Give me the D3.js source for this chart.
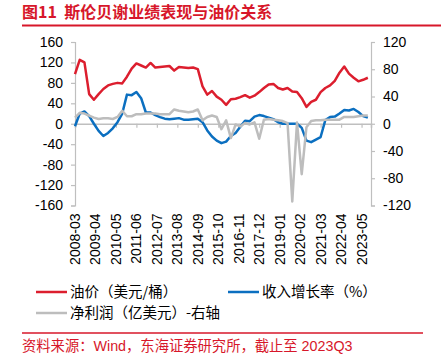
<!DOCTYPE html>
<html><head><meta charset="utf-8">
<script src="https://cdn.jsdelivr.net/npm/d3@7"></script>
<style>
html,body{margin:0;padding:0;background:#fff;}
svg{display:block;font-family:"Liberation Sans",Arial,"Noto Sans CJK SC",sans-serif;}
</style></head>
<body><svg id="c" width="444" height="356"></svg>
<script>
// ---- data ----
const tickLabels = ["2008-03","2009-04","2010-05","2011-06","2012-07","2013-08","2014-09","2015-10","2016-11","2017-12","2019-01","2020-02","2021-03","2022-04","2023-05"];
const leftTicks = [160,120,80,40,0,-40,-80,-120,-160];
const rightTicks = [120,80,40,0,-40,-80,-120];
// quarterly observations 2008-03 ... 2023-09
const oilPrice = [97,125,120,58,47,58,68,75,78,80,79,92,108,118,114,110,119,110,111,112,113,104,111,110,109,110,107,73,57,64,53,47,37,48,49,52,56,51,55,62,70,77,78,70,67,70,63,62,50,33,43,47,62,70,75,84,100,112,98,90,83,86,90];
const revenueGrowth = [-5,20,24,15,0,-14,-24,-18,-9,3,20,57,56,62,50,22,22,17,13,10,9,10,11,8,8,9,10,3,-13,-25,-33,-38,-35,-24,-18,-6,6,5,14,17,15,12,9,3,0,0,0,0,-8,-33,-36,-31,-26,7,13,14,20,27,26,29,23,15,12];
const netIncome = [9,16,15,12,9,7,8,8,7,10,19,11,11,14,14,15,15,15,14,14,14,21,19,18,17,18,21,5,10,12,10,-8,5,-21,-1,-4,1,-1,2,-22,6,7,6,5,4,1,-114,2,-74,-5,4,5,5,6,6,6,6,10,10,10,11,12,12];
const seriesNames = ["油价（美元/桶）","收入增长率（%）","净利润（亿美元）-右轴"];
const colors = ["#dc1e2e","#0b6fc0","#bdbdbd"];

// month categories 2008-03 .. 2023-11
const months = [];
for (let y = 2008, m = 3; !(y === 2023 && m === 12); ) {
  months.push(y + "-" + String(m).padStart(2, "0"));
  m++; if (m > 12) { m = 1; y++; }
}
const quarters = months.filter((d, i) => i % 3 === 0).slice(0, oilPrice.length);

// ---- layout ----
const svg = d3.select("#c");
const red = "#d7172a";
const axisCol = "#bfbfbf";
const x0 = 75, x1 = 371, yTop = 42, yBot = 205.5;
const x = d3.scalePoint().domain(months).range([x0, x1]);
const yL = d3.scaleLinear().domain([-160, 160]).range([yBot, yTop]);
const yR = d3.scaleLinear().domain([-120, 120]).range([yBot, yTop]);

// title
svg.append("text").attr("x", 22).attr("y", 18).attr("fill", red)
  .attr("font-size", 16).attr("font-weight", "bold")
  .attr("font-family", "'Noto Sans CJK SC','Liberation Sans',sans-serif")
  .style("white-space", "pre")
  .text("图11  斯伦贝谢业绩表现与油价关系");
svg.append("line").attr("x1", 22).attr("x2", 441).attr("y1", 25.5).attr("y2", 25.5)
  .attr("stroke", red).attr("stroke-width", 2);

// left axis
const fmt = d => String(d);
const gL = svg.append("g").attr("transform", `translate(${x0},0)`)
  .call(d3.axisLeft(yL).tickValues(leftTicks).tickSize(4).tickPadding(8).tickFormat(fmt));
// right axis
const gR = svg.append("g").attr("transform", `translate(${x1},0)`)
  .call(d3.axisRight(yR).tickValues(rightTicks).tickSize(4).tickPadding(8).tickFormat(fmt));
[gL, gR].forEach(g => {
  g.select(".domain").attr("stroke", axisCol).attr("stroke-width", 1.2);
  g.selectAll(".tick line").attr("stroke", axisCol).attr("stroke-width", 1.2);
  g.selectAll(".tick text").attr("font-size", 14).attr("fill", "#000");
});

// zero line with ticks
const gX = svg.append("g").attr("transform", `translate(0,${yL(0)})`)
  .call(d3.axisBottom(x).tickValues(tickLabels).tickSize(4).tickFormat(""));
gX.select(".domain").attr("stroke", axisCol).attr("stroke-width", 1.5);
gX.selectAll(".tick line").attr("stroke", axisCol).attr("stroke-width", 1.2);

// bottom rotated labels
svg.append("g").selectAll("text").data(tickLabels).join("text")
  .attr("transform", d => `translate(${x(d) + 5},${yBot + 8}) rotate(-90)`)
  .attr("text-anchor", "end").attr("font-size", 14).attr("fill", "#000")
  .text(d => d);

// lines
const mk = (vals, ys) => d3.line().x((d, i) => x(quarters[i])).y(d => ys(d))(vals);
const data = [[oilPrice, yL], [revenueGrowth, yL], [netIncome, yR]];
[0, 1, 2].forEach(i => {
  svg.append("path").attr("d", mk(data[i][0], data[i][1]))
    .attr("fill", "none").attr("stroke", colors[i]).attr("stroke-width", 2.5)
    .attr("stroke-linejoin", "round");
});

// legend
const leg = [[36, 292, 0], [228, 292, 1], [36, 313, 2]];
leg.forEach(([lx, ly, i]) => {
  svg.append("line").attr("x1", lx).attr("x2", lx + 31).attr("y1", ly).attr("y2", ly)
    .attr("stroke", colors[i]).attr("stroke-width", 2.5);
  svg.append("text").attr("x", lx + 34).attr("y", ly + 5).attr("font-size", 14.5)
    .attr("font-family", "'Noto Sans CJK SC','Liberation Sans',sans-serif")
    .attr("fill", "#000").text(seriesNames[i]);
});

// source
svg.append("line").attr("x1", 22).attr("x2", 423).attr("y1", 333).attr("y2", 333)
  .attr("stroke", red).attr("stroke-width", 1.5);
svg.append("text").attr("x", 22).attr("y", 351).attr("fill", red).attr("font-size", 14.3)
  .attr("font-family", "'Liberation Sans','Noto Sans CJK SC',sans-serif")
  .text("资料来源：Wind，东海证券研究所，截止至 2023Q3");
</script></body></html>
